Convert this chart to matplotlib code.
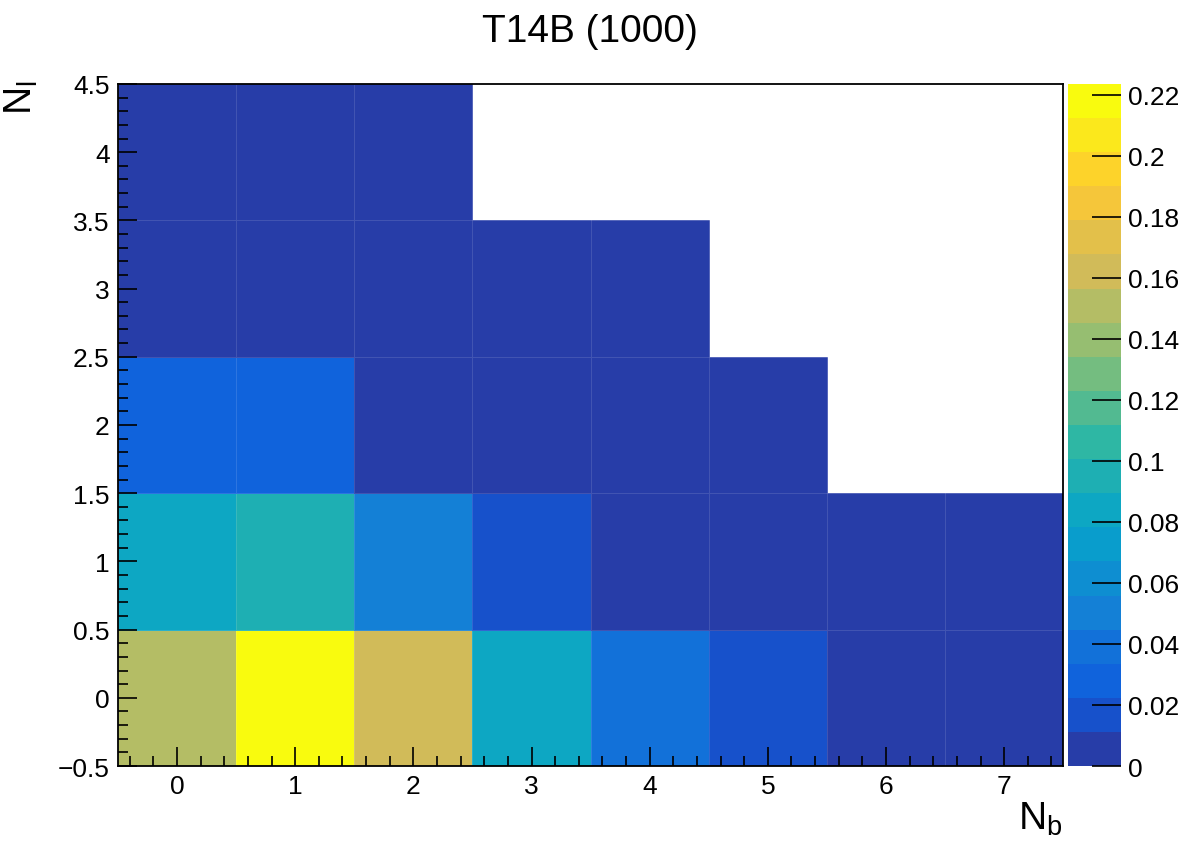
import numpy as np
import matplotlib
matplotlib.use("Agg")
import matplotlib.pyplot as plt
from matplotlib.colors import LinearSegmentedColormap, ListedColormap, BoundaryNorm

plt.rcParams['font.family'] = ['Liberation Sans', 'DejaVu Sans']
plt.rcParams['mathtext.fontset'] = 'custom'
plt.rcParams['mathtext.rm'] = 'Liberation Sans'
plt.rcParams['mathtext.it'] = 'Liberation Sans'

# data: rows are N_l = 0..4, columns N_b = 0..7 (nan = empty bin)
nb_bins = [0, 1, 2, 3, 4, 5, 6, 7]
nl_bins = [0, 1, 2, 3, 4]
row_nl0 = [0.151, 0.2235, 0.162, 0.084, 0.039, 0.017, 0.004, 0.003]
row_nl1 = [0.086, 0.095, 0.050, 0.016, 0.005, 0.004, 0.002, 0.002]
row_nl2 = [0.029, 0.029, 0.008, 0.006, 0.004, 0.002, np.nan, np.nan]
row_nl3 = [0.006, 0.005, 0.004, 0.003, 0.002, np.nan, np.nan, np.nan]
row_nl4 = [0.003, 0.003, 0.002, np.nan, np.nan, np.nan, np.nan, np.nan]
ytick_labels = ["\u22120.5", "0", "0.5", "1", "1.5", "2", "2.5", "3", "3.5", "4", "4.5"]
ztick_labels = ["0", "0.02", "0.04", "0.06", "0.08", "0.1", "0.12",
                "0.14", "0.16", "0.18", "0.2", "0.22"]

z = np.ma.masked_invalid(np.array([row_nl0, row_nl1, row_nl2, row_nl3, row_nl4]))

# ROOT kBird palette, 20 contour levels
stops = [0.0000, 0.1250, 0.2500, 0.3750, 0.5000, 0.6250, 0.7500, 0.8750, 1.0000]
red = [0.2082, 0.0592, 0.0780, 0.0232, 0.1802, 0.5301, 0.8186, 0.9956, 0.9764]
green = [0.1664, 0.3599, 0.5041, 0.6419, 0.7178, 0.7492, 0.7328, 0.7862, 0.9832]
blue = [0.5293, 0.8684, 0.8385, 0.7914, 0.6425, 0.4662, 0.3499, 0.1968, 0.0539]
bird = LinearSegmentedColormap.from_list(
    "bird", list(zip(stops, zip(red, green, blue))), N=255)
ncont = 20
cols = [bird(int((k + 0.99) * 255 / ncont)) for k in range(ncont)]
cmap = ListedColormap(cols)
zmax = float(z.max())
levels = np.linspace(0, zmax, ncont + 1)
norm = BoundaryNorm(levels, ncont)

fig = plt.figure(figsize=(11.82, 8.53), dpi=100)
ax = fig.add_axes([0.0998, 0.1008, 0.8995 - 0.0998, 0.9004 - 0.1008])
xe = np.arange(len(nb_bins) + 1) - 0.5
ye = np.arange(len(nl_bins) + 1) - 0.5
ax.pcolormesh(xe, ye, z, cmap=cmap, norm=norm,
              edgecolors=(1, 1, 1, 0.12), linewidth=0.6)
ax.set_xlim(-0.5, 7.5)
ax.set_ylim(-0.5, 4.5)

ax.set_xticks(nb_bins)
ax.set_xticks(np.arange(-0.4, 7.5, 0.2), minor=True)
ax.set_yticks(np.arange(-0.5, 4.51, 0.5))
ax.set_yticks(np.arange(-0.5, 4.51, 0.1), minor=True)
ax.set_yticklabels(ytick_labels)
ax.tick_params(which='major', direction='in', length=14, width=1.2, labelsize=19,
               top=False, right=False)
ax.tick_params(axis='x', which='major', pad=6)
ax.tick_params(axis='y', which='major', pad=6)
ax.tick_params(which='minor', direction='in', length=7, width=1.2, top=False, right=False)
for s in ax.spines.values():
    s.set_linewidth(1.3)

fig.text(0.499, 0.963, "T14B (1000)", ha='center', va='center', fontsize=28)
fig.text(0.899, 0.04, "$\\mathregular{N_{b}}$", ha='right', va='center', fontsize=28)
fig.text(0.018, 0.885, "$\\mathregular{N_{l}}$", ha='center', va='center', fontsize=28, rotation=90)

cax = fig.add_axes([0.9036, 0.1008, 0.0448, 0.9004 - 0.1008])
cb = fig.colorbar(plt.cm.ScalarMappable(norm=norm, cmap=cmap), cax=cax,
                  ticks=np.arange(0, 0.221, 0.02), drawedges=False)
cb.outline.set_visible(False)
cb.ax.set_yticklabels(ztick_labels)
cb.ax.tick_params(direction='in', length=21, width=1.2, labelsize=19, pad=5)
cb.ax.minorticks_off()

fig.savefig("out.png", dpi=100)
